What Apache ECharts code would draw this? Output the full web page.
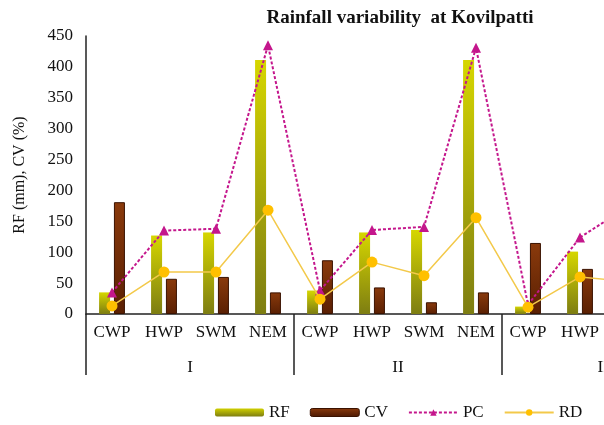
<!DOCTYPE html>
<html>
<head>
<meta charset="utf-8">
<script src="https://cdn.jsdelivr.net/npm/echarts@6/dist/echarts.min.js"></script>
<style>
html,body{margin:0;padding:0;background:#fff;overflow:hidden;width:604px;height:425px;}
#c{width:720px;height:425px;}
</style>
</head>
<body>
<div id="c"></div>
<script>
// Data (group III SWM/NEM are outside the visible frame and estimated)
const categories = ['CWP','HWP','SWM','NEM','CWP','HWP','SWM','NEM','CWP','HWP','SWM','NEM'];
const groups = ['I','II','III'];
const RF = [35, 127, 132, 411, 38, 132, 136, 411, 12, 101, 140, 400];
const CV = [181, 57, 60, 35, 87, 43, 19, 35, 115, 73, 50, 35];
const PC = [35, 135, 138, 435, 38, 136, 141, 431, 15, 124, 178, 420];
const RD = [13, 68, 68, 168, 24, 84, 62, 156, 11, 60, 52, 150];
const yTicks = {min: 0, max: 450, interval: 50};

const serif = '"Liberation Serif","Times New Roman",serif';
const chart = echarts.init(document.getElementById('c'), null, {renderer: 'canvas'});
const rfColor = new echarts.graphic.LinearGradient(0, 0, 0, 1, [
  {offset: 0, color: '#d6d600'}, {offset: 1, color: '#7d7d12'}]);
const cvColor = new echarts.graphic.LinearGradient(0, 0, 0, 1, [
  {offset: 0, color: '#8a3a0c'}, {offset: 1, color: '#5a2003'}]);
const rfLegend = new echarts.graphic.LinearGradient(0, 0, 0, 1, [
  {offset: 0, color: '#cfcf00'}, {offset: 1, color: '#7d7d12'}]);
const cvLegend = new echarts.graphic.LinearGradient(0, 0, 0, 1, [
  {offset: 0, color: '#8a3a0c'}, {offset: 1, color: '#4a1802'}]);

chart.setOption({
  animation: false,
  backgroundColor: '#fff',
  title: {
    text: 'Rainfall variability  at Kovilpatti',
    left: 395, top: 4, textAlign: 'center',
    textStyle: {fontFamily: serif, fontWeight: 'bold', fontSize: 19, color: '#111'}
  },
  legend: {
    left: 210, top: 399,
    itemWidth: 49, itemHeight: 8, itemGap: 20,
    textStyle: {fontFamily: serif, fontSize: 17, color: '#111'},
    data: [
      {name: 'RF', itemStyle: {color: rfLegend}},
      {name: 'CV', itemStyle: {color: cvLegend, borderColor: '#3a1200', borderWidth: 1}},
      {name: 'PC'},
      {name: 'RD'}
    ]
  },
  grid: {left: 86, top: 36, bottom: 111, right: 10, containLabel: false},
  xAxis: [
    {
      type: 'category', data: categories, position: 'bottom',
      axisLine: {show: true, lineStyle: {color: '#222', width: 1.5}},
      axisTick: {show: false},
      axisLabel: {fontFamily: serif, fontSize: 17, color: '#111', margin: 10, interval: 0}
    },
    {
      type: 'category', data: groups, position: 'bottom', gridIndex: 0,
      axisLine: {show: false},
      axisTick: {show: true, length: 61, interval: 0, lineStyle: {color: '#222', width: 1.5}},
      axisLabel: {fontFamily: serif, fontSize: 17, color: '#111', margin: 45, interval: 0}
    }
  ],
  yAxis: {
    type: 'value', min: yTicks.min, max: yTicks.max, interval: yTicks.interval,
    name: 'RF (mm), CV (%)', nameLocation: 'middle', nameGap: 58, nameRotate: 90,
    nameTextStyle: {fontFamily: serif, fontSize: 16, color: '#111'},
    axisLine: {show: true, lineStyle: {color: '#222', width: 1.5}},
    axisTick: {show: false},
    splitLine: {show: false},
    axisLabel: {fontFamily: serif, fontSize: 17, color: '#111', margin: 13}
  },
  series: [
    {name: 'RF', type: 'bar', data: RF, barWidth: 11, barGap: '35%',
     itemStyle: {color: rfColor}},
    {name: 'CV', type: 'bar', data: CV, barWidth: 11,
     itemStyle: {color: cvColor, borderColor: '#3a1200', borderWidth: 1}},
    {name: 'PC', type: 'line', data: PC, symbol: 'triangle', symbolSize: 10,
     lineStyle: {color: '#c4168c', width: 2, type: [3, 2]},
     itemStyle: {color: '#c4168c'}, z: 5},
    {name: 'RD', type: 'line', data: RD, symbol: 'circle', symbolSize: 11,
     lineStyle: {color: '#f3c94a', width: 1.5},
     itemStyle: {color: '#ffc000'}, z: 6}
  ]
});
</script>
</body>
</html>
